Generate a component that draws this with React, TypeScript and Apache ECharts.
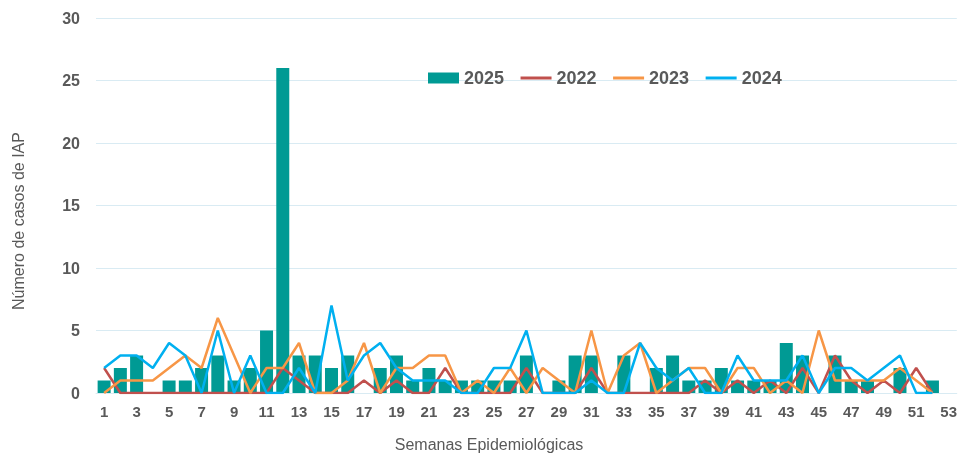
import React, { useEffect, useRef } from "react";
import * as echarts from "echarts";

const weeks: string[] = Array.from({ length: 53 }, (_, i) => String(i + 1));

const cases2025: number[] = [
  1, 2, 3, 0, 1, 1, 2, 3, 1, 2, 5, 26, 3, 3, 2, 3, 0, 2, 3, 1, 2, 1, 1, 1, 1, 1,
  3, 0, 1, 3, 3, 0, 3, 0, 2, 3, 1, 1, 2, 1, 1, 1, 4, 3, 0, 3, 1, 1, 0, 2, 0, 1, 0,
];

const cases2022: number[] = [
  2, 0, 0, 0, 0, 0, 0, 0, 0, 0, 0, 2, 1, 0, 0, 0, 1, 0, 1, 0, 0, 2, 0, 0, 0, 0,
  2, 0, 0, 0, 2, 0, 0, 0, 0, 0, 0, 1, 0, 1, 0, 1, 0, 2, 0, 3, 1, 0, 1, 0, 2, 0,
];

const cases2023: number[] = [
  0, 1, 1, 1, 2, 3, 2, 6, 3, 0, 2, 2, 4, 0, 0, 1, 4, 0, 2, 2, 3, 3, 0, 1, 0, 2,
  0, 2, 1, 0, 5, 0, 3, 4, 0, 1, 2, 2, 0, 2, 2, 0, 1, 0, 5, 1, 1, 1, 1, 2, 1, 0,
];

const cases2024: number[] = [
  2, 3, 3, 2, 4, 3, 0, 5, 0, 3, 0, 0, 2, 0, 7, 1, 3, 4, 2, 1, 1, 1, 0, 0, 2, 2,
  5, 0, 0, 0, 1, 0, 0, 4, 2, 1, 2, 0, 0, 3, 1, 1, 1, 3, 0, 2, 2, 1, 2, 3, 0, 0,
];

const yTicks = { min: 0, max: 30, interval: 5 };

const TEXT = "#595959";
const GRID = "#D9EBF3";
const FONT = "'Liberation Sans', Arial, sans-serif";

export default function App() {
  const ref = useRef<HTMLDivElement>(null);

  useEffect(() => {
    if (!ref.current) return;
    const chart = echarts.init(ref.current, undefined, { renderer: "svg" });
    const lineSeries = (name: string, data: number[], color: string) => ({
      name,
      type: "line",
      data,
      symbol: "none",
      lineStyle: { color, width: 2.5 },
      itemStyle: { color },
      z: 3,
    });
    const lineLegend = (name: string) => ({
      name,
      itemStyle: { opacity: 0 },
      lineStyle: { width: 3 },
    });
    chart.setOption({
      animation: false,
      textStyle: { fontFamily: FONT },
      grid: { left: 96, right: 0, top: 18, bottom: 60 },
      legend: {
        left: 428,
        top: 69,
        padding: 0,
        itemWidth: 31,
        itemHeight: 11,
        itemGap: 15,
        textStyle: { color: TEXT, fontSize: 18, fontWeight: "bold", fontFamily: FONT },
        data: [
          { name: "2025", icon: "rect" },
          lineLegend("2022"),
          lineLegend("2023"),
          lineLegend("2024"),
        ],
      },
      xAxis: {
        type: "category",
        data: weeks,
        boundaryGap: true,
        axisTick: { show: false },
        axisLine: { lineStyle: { color: GRID, width: 1 } },
        axisLabel: {
          interval: 1,
          color: TEXT,
          fontSize: 15,
          fontWeight: "bold",
          margin: 11,
          fontFamily: FONT,
        },
      },
      yAxis: {
        type: "value",
        min: yTicks.min,
        max: yTicks.max,
        interval: yTicks.interval,
        axisLine: { show: false },
        axisTick: { show: false },
        splitLine: { lineStyle: { color: GRID, width: 1 } },
        axisLabel: {
          color: TEXT,
          fontSize: 16,
          fontWeight: "bold",
          margin: 16,
          fontFamily: FONT,
        },
      },
      graphic: [
        {
          type: "text",
          x: 18,
          y: 221,
          rotation: Math.PI / 2,
          style: {
            text: "Número de casos de IAP",
            fill: TEXT,
            font: `16px ${FONT}`,
            textAlign: "center",
            textVerticalAlign: "middle",
          },
        },
        {
          type: "text",
          x: 489,
          y: 444,
          style: {
            text: "Semanas Epidemiológicas",
            fill: TEXT,
            font: `16px ${FONT}`,
            textAlign: "center",
            textVerticalAlign: "middle",
          },
        },
      ],
      series: [
        {
          name: "2025",
          type: "bar",
          data: cases2025,
          barWidth: 13,
          itemStyle: { color: "#009A94" },
          z: 2,
        },
        lineSeries("2022", cases2022, "#C0504D"),
        lineSeries("2023", cases2023, "#F79646"),
        lineSeries("2024", cases2024, "#00B0F0"),
      ],
    });
    return () => chart.dispose();
  }, []);

  return (
    <div
      ref={ref}
      style={{ position: "fixed", left: 0, top: 0, width: 960, height: 453 }}
    />
  );
}
